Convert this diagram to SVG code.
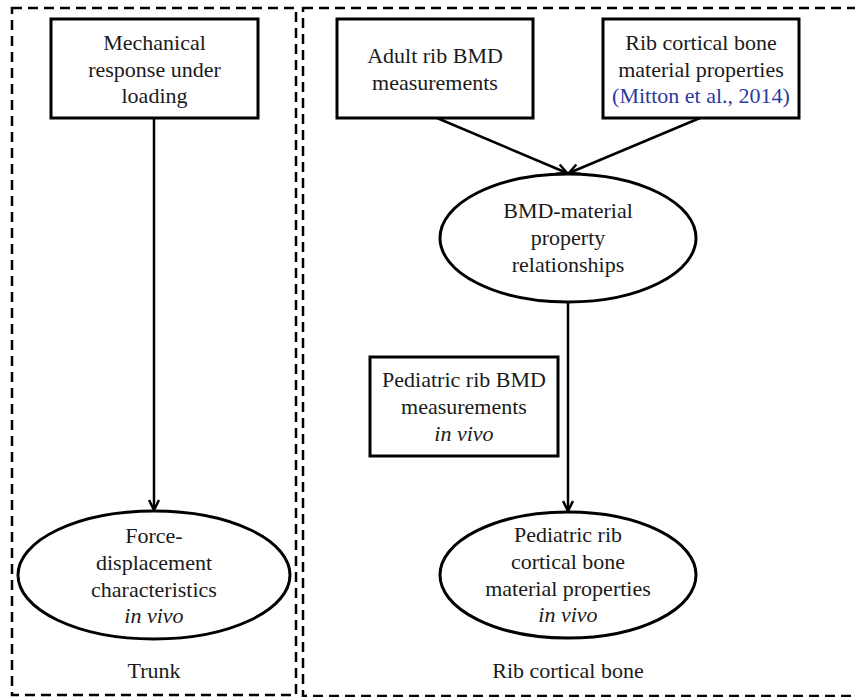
<svg xmlns="http://www.w3.org/2000/svg" width="855" height="697" viewBox="0 0 855 697">
<defs>
<marker id="arr" viewBox="0 0 12 12" refX="11" refY="6" markerWidth="12" markerHeight="12" markerUnits="userSpaceOnUse" orient="auto">
<path d="M1,1 L11,6 L1,11" fill="none" stroke="#000" stroke-width="2.5"/>
</marker>
<style>
.n{fill:#fff;stroke:#000;stroke-width:3}
.d{fill:none;stroke:#000;stroke-width:2.5;stroke-dasharray:10 6}
.c{fill:none;stroke:#000;stroke-width:2.5}
</style>
</defs>
<rect width="855" height="697" fill="#fff"/>
<g id="panels">
<rect class="d" x="12" y="8" width="284" height="687"/>
<rect class="d" x="303" y="8" width="570" height="688"/>
</g>
<g id="connectors">
<line class="c" x1="154" y1="118" x2="154" y2="510" marker-end="url(#arr)"/>
<line class="c" x1="437" y1="118" x2="567" y2="173" marker-end="url(#arr)"/>
<line class="c" x1="700" y1="118" x2="569" y2="173" marker-end="url(#arr)"/>
<line class="c" x1="568" y1="302" x2="568" y2="511" marker-end="url(#arr)"/>
</g>
<g id="mech">
<rect class="n" x="51" y="19" width="207" height="99"/>
<text x="154.5" y="50" font-family="Liberation Serif" font-size="22" fill="#1a1a1a" text-anchor="middle">Mechanical</text>
<text x="154.5" y="77" font-family="Liberation Serif" font-size="22" fill="#1a1a1a" text-anchor="middle">response under</text>
<text x="154.5" y="103" font-family="Liberation Serif" font-size="22" fill="#1a1a1a" text-anchor="middle">loading</text>
</g>
<g id="force">
<ellipse class="n" cx="154" cy="575" rx="136" ry="64"/>
<text x="154" y="543" font-family="Liberation Serif" font-size="22" fill="#1a1a1a" text-anchor="middle">Force-</text>
<text x="154" y="570" font-family="Liberation Serif" font-size="22" fill="#1a1a1a" text-anchor="middle">displacement</text>
<text x="154" y="597" font-family="Liberation Serif" font-size="22" fill="#1a1a1a" text-anchor="middle">characteristics</text>
<text x="154" y="623" font-family="Liberation Serif" font-size="22" fill="#1a1a1a" text-anchor="middle" font-style="italic">in vivo</text>
</g>
<g id="trunk"><text x="154" y="678" font-family="Liberation Serif" font-size="22" fill="#1a1a1a" text-anchor="middle">Trunk</text></g>
<g id="adult">
<rect class="n" x="337" y="19" width="196" height="99"/>
<text x="435" y="63" font-family="Liberation Serif" font-size="22" fill="#1a1a1a" text-anchor="middle">Adult rib BMD</text>
<text x="435" y="90" font-family="Liberation Serif" font-size="22" fill="#1a1a1a" text-anchor="middle">measurements</text>
</g>
<g id="ribprop">
<rect class="n" x="603" y="19" width="196" height="99"/>
<text x="701" y="50" font-family="Liberation Serif" font-size="22" fill="#1a1a1a" text-anchor="middle">Rib cortical bone</text>
<text x="701" y="77" font-family="Liberation Serif" font-size="22" fill="#1a1a1a" text-anchor="middle">material properties</text>
<text x="701" y="103" font-family="Liberation Serif" font-size="22" fill="#2b3a9e" text-anchor="middle">(Mitton et al., 2014)</text>
</g>
<g id="bmdrel">
<ellipse class="n" cx="568" cy="238" rx="128" ry="64"/>
<text x="568" y="218" font-family="Liberation Serif" font-size="22" fill="#1a1a1a" text-anchor="middle">BMD-material</text>
<text x="568" y="245" font-family="Liberation Serif" font-size="22" fill="#1a1a1a" text-anchor="middle">property</text>
<text x="568" y="272" font-family="Liberation Serif" font-size="22" fill="#1a1a1a" text-anchor="middle">relationships</text>
</g>
<g id="pedbmd">
<rect class="n" x="370" y="357" width="188" height="99"/>
<text x="464" y="387" font-family="Liberation Serif" font-size="22" fill="#1a1a1a" text-anchor="middle">Pediatric rib BMD</text>
<text x="464" y="414" font-family="Liberation Serif" font-size="22" fill="#1a1a1a" text-anchor="middle">measurements</text>
<text x="464" y="441" font-family="Liberation Serif" font-size="22" fill="#1a1a1a" text-anchor="middle" font-style="italic">in vivo</text>
</g>
<g id="pedprop">
<ellipse class="n" cx="568" cy="575" rx="128" ry="63"/>
<text x="568" y="542" font-family="Liberation Serif" font-size="22" fill="#1a1a1a" text-anchor="middle">Pediatric rib</text>
<text x="568" y="569" font-family="Liberation Serif" font-size="22" fill="#1a1a1a" text-anchor="middle">cortical bone</text>
<text x="568" y="596" font-family="Liberation Serif" font-size="22" fill="#1a1a1a" text-anchor="middle">material properties</text>
<text x="568" y="622" font-family="Liberation Serif" font-size="22" fill="#1a1a1a" text-anchor="middle" font-style="italic">in vivo</text>
</g>
<g id="ribcort"><text x="568" y="678" font-family="Liberation Serif" font-size="22" fill="#1a1a1a" text-anchor="middle">Rib cortical bone</text></g>
</svg>
